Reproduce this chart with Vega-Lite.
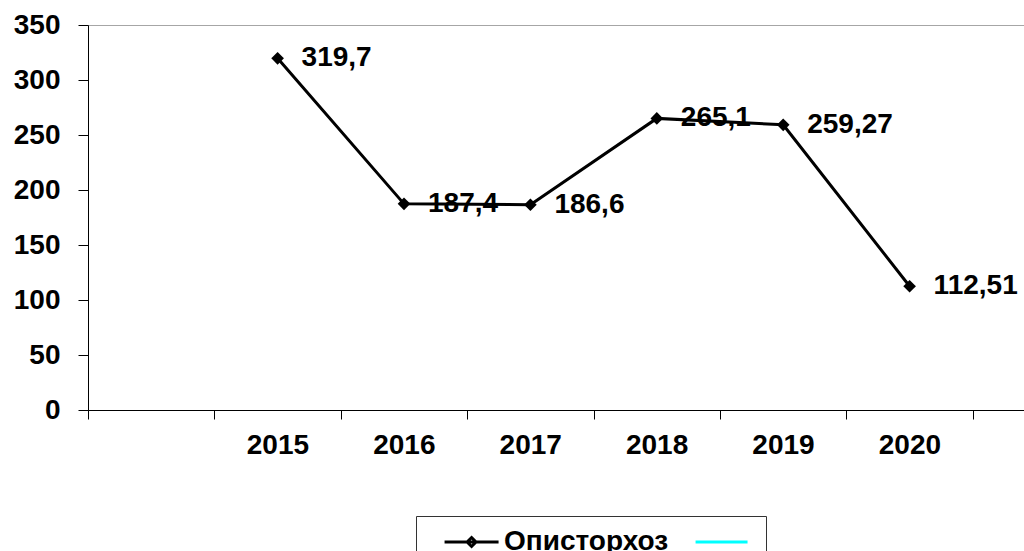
{
  "$schema": "https://vega.github.io/schema/vega-lite/v6.json",
  "width": 936,
  "height": 385,
  "autosize": {"type": "none"},
  "padding": {"left": 88, "top": 25, "right": 0, "bottom": 141},
  "background": "white",
  "config": {
    "view": {"stroke": "#a6a6a6", "strokeWidth": 1},
    "font": "Liberation Sans"
  },
  "data": {
    "values": [
      {"year": 2015, "value": 319.7, "label": "319,7", "series": "Описторхоз"},
      {"year": 2016, "value": 187.4, "label": "187,4", "series": "Описторхоз"},
      {"year": 2017, "value": 186.6, "label": "186,6", "series": "Описторхоз"},
      {"year": 2018, "value": 265.1, "label": "265,1", "series": "Описторхоз"},
      {"year": 2019, "value": 259.27, "label": "259,27", "series": "Описторхоз"},
      {"year": 2020, "value": 112.51, "label": "112,51", "series": "Описторхоз"}
    ]
  },
  "encoding": {
    "x": {
      "field": "year",
      "type": "quantitative",
      "scale": {"domain": [2013.5, 2020.905], "nice": false, "zero": false},
      "axis": {
        "title": null,
        "grid": false,
        "values": [2013.5, 2014.5, 2015.5, 2016.5, 2017.5, 2018.5, 2019.5, 2020.5],
        "labelExpr": "datum.value > 2014 && datum.value < 2020 ? format(datum.value + 0.5, 'd') : ''",
        "labelOffset": 63,
        "labelOverlap": false,
        "labelBound": false,
        "labelFlush": false,
        "tickSize": 9,
        "tickColor": "#000000",
        "tickWidth": 1,
        "domainColor": "#000000",
        "domainWidth": 1,
        "labelFont": "Liberation Sans",
        "labelFontSize": 28,
        "labelFontWeight": "bold",
        "labelColor": "#000000",
        "labelPadding": 12
      }
    },
    "y": {
      "field": "value",
      "type": "quantitative",
      "scale": {"domain": [0, 350], "nice": false},
      "axis": {
        "title": null,
        "grid": false,
        "values": [0, 50, 100, 150, 200, 250, 300, 350],
        "tickSize": 10,
        "tickColor": "#000000",
        "domainColor": "#000000",
        "labelFont": "Liberation Sans",
        "labelFontSize": 28,
        "labelFontWeight": "bold",
        "labelColor": "#000000",
        "labelPadding": 18,
        "labelOverlap": false
      }
    }
  },
  "layer": [
    {
      "mark": {"type": "line", "color": "#000000", "strokeWidth": 3}
    },
    {
      "mark": {"type": "point", "shape": "diamond", "filled": true, "color": "#000000", "size": 160, "opacity": 1}
    },
    {
      "mark": {"type": "text", "align": "left", "baseline": "middle", "dx": 24, "font": "Liberation Sans", "fontSize": 28, "fontWeight": "bold", "color": "#000000"},
      "encoding": {"text": {"field": "label"}}
    },
    {
      "transform": [{"filter": "datum.value < 0"}],
      "mark": {"type": "point", "filled": false, "opacity": 1},
      "encoding": {
        "color": {
          "field": "series",
          "type": "nominal",
          "scale": {"domain": ["Описторхоз", "Ряд2"], "range": ["#000000", "#00ffff"]},
          "legend": {
            "title": null,
            "orient": "none",
            "legendX": 328,
            "legendY": 491,
            "direction": "horizontal",
            "padding": 11,
            "strokeColor": "#333333",
            "fillColor": "#ffffff",
            "symbolSize": 729,
            "symbolStrokeWidth": 3,
            "symbolOpacity": 1,
            "symbolFillColor": "#000000",
            "labelFont": "Liberation Sans",
            "labelFontSize": 28,
            "labelFontWeight": "bold",
            "labelColor": "#000000",
            "labelLimit": 400,
            "labelOffset": 47,
            "columnPadding": 9,
            "labelExpr": "datum.label == 'Ряд2' ? '' : datum.label"
          }
        },
        "shape": {
          "field": "series",
          "type": "nominal",
          "scale": {
            "domain": ["Описторхоз", "Ряд2"],
            "range": ["M0.19,0H4.19M2.19,-0.33L2.52,0L2.19,0.33L1.86,0Z", "M0.19,0H4.04"]
          }
        }
      }
    }
  ]
}
